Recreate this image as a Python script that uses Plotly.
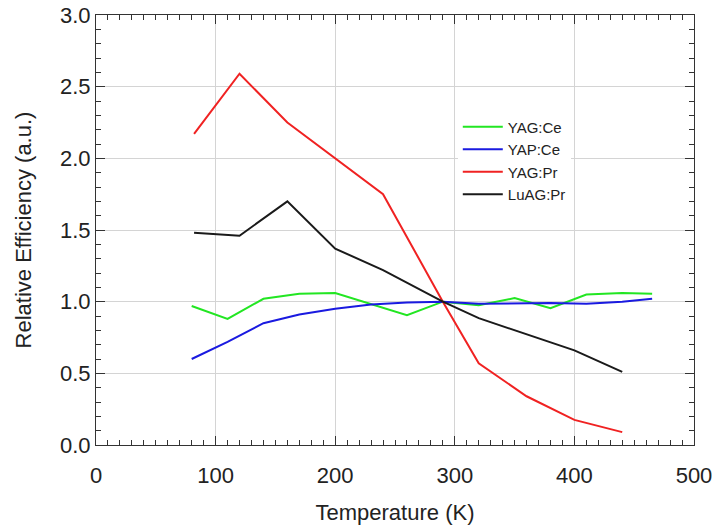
import plotly.graph_objects as go

# Temperatures (K)
temp_ce = [80, 110, 140, 170, 200, 230, 260, 290, 320, 350, 380, 410, 440, 465]
temp_pr = [82, 120, 160, 200, 240, 290, 320, 360, 400, 440]

yag_ce = [0.97, 0.88, 1.02, 1.055, 1.06, 0.98, 0.905, 1.0, 0.975, 1.025, 0.955, 1.05, 1.06, 1.055]
yap_ce = [0.60, 0.72, 0.85, 0.91, 0.95, 0.98, 0.995, 1.0, 0.985, 0.99, 0.99, 0.985, 1.0, 1.02]
yag_pr = [2.17, 2.59, 2.25, 2.00, 1.75, 1.0, 0.57, 0.34, 0.175, 0.09]
luag_pr = [1.48, 1.46, 1.70, 1.37, 1.22, 1.0, 0.885, 0.77, 0.66, 0.51]

series = [
    ("YAG:Ce", temp_ce, yag_ce, "#22e622"),
    ("YAP:Ce", temp_ce, yap_ce, "#1a1ae0"),
    ("YAG:Pr", temp_pr, yag_pr, "#f02222"),
    ("LuAG:Pr", temp_pr, luag_pr, "#1a1a1a"),
]

fig = go.Figure()
for name, x, y, c in series:
    fig.add_trace(go.Scatter(x=x, y=y, name=name, mode="lines",
                             line=dict(color=c, width=2)))

font = "Liberation Sans, Arial, sans-serif"
axis_common = dict(
    showline=True, linecolor="#333", linewidth=1.2, mirror="ticks",
    ticks="inside", ticklen=9, tickcolor="#333",
    showgrid=True, gridcolor="#d4d4d4", gridwidth=1, zeroline=False,
    tickfont=dict(family=font, size=22, color="#222"),
    automargin=False,
)

fig.update_layout(
    width=715, height=529,
    margin=dict(l=96, r=21, t=15, b=84),
    paper_bgcolor="white", plot_bgcolor="white",
    font=dict(family=font, color="#222"),
    xaxis=dict(range=[0, 500], dtick=100, ticklabelstandoff=10,
               minor=dict(dtick=10, ticks="inside", ticklen=5, tickcolor="#333", showgrid=False),
               title=dict(text="Temperature (K)", font=dict(family=font, size=22, color="#222"), standoff=18),
               **axis_common),
    yaxis=dict(range=[0, 3.0], dtick=0.5, tickformat=".1f",
               minor=dict(dtick=0.1, ticks="inside", ticklen=5, tickcolor="#333", showgrid=False),
               title=dict(text="Relative Efficiency (a.u.)", font=dict(family=font, size=22, color="#222"), standoff=22),
               **axis_common),
    legend=dict(x=0.605, y=0.778, xanchor="left", yanchor="top",
                bgcolor="white", borderwidth=0, itemwidth=40,
                font=dict(family=font, size=15, color="#222"),
                tracegroupgap=0),
    showlegend=True,
)

fig.write_html("out.html",
               config={"displayModeBar": False},
               post_script="document.body.style.margin='0';document.body.style.padding='0';")
